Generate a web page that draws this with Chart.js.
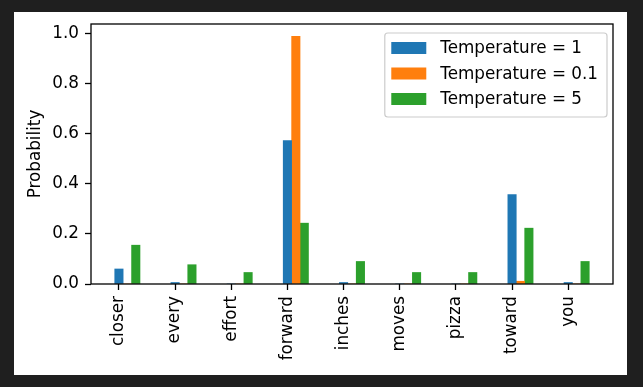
<!DOCTYPE html>
<html>
<head>
<meta charset="utf-8">
<script src="https://cdn.jsdelivr.net/npm/chart.js@4.4.0/dist/chart.umd.min.js"></script>
<style>
    html, body { margin: 0; padding: 0; background: #1f1f1f; }
    body { width: 643px; height: 387px; position: relative; overflow: hidden; }
    #frame { position: absolute; left: 14px; top: 12px; width: 613px; height: 363px; background: #fff; }
    #myChart { display: block; }
</style>
</head>
<body>
<div id="frame"><canvas id="myChart" width="613" height="363"></canvas></div>
<script>
// words on the x axis
const categories = ['closer', 'every', 'effort', 'forward', 'inches', 'moves', 'pizza', 'toward', 'you'];
// probabilities per temperature
const probT1 = [0.060, 0.006, 0.000, 0.573, 0.006, 0.000, 0.000, 0.357, 0.006];
const probT01 = [0.000, 0.000, 0.000, 0.989, 0.000, 0.000, 0.000, 0.011, 0.000];
const probT5 = [0.155, 0.077, 0.046, 0.243, 0.090, 0.046, 0.046, 0.223, 0.090];
const seriesLabels = ['Temperature = 1', 'Temperature = 0.1', 'Temperature = 5'];
const seriesColors = ['#1f77b4', '#ff7f0e', '#2ca02c'];
const yTicks = [0, 0.2, 0.4, 0.6, 0.8, 1.0];

const FONT = 'DejaVu Sans';
const FS = 16.8;
const barWidth = 0.15;   // in category units, like plt.bar(x + k*w, ..., width=w)

const series = [probT1, probT01, probT5];
const datasets = series.map((vals, k) => ({
    label: seriesLabels[k],
    backgroundColor: seriesColors[k],
    borderWidth: 0,
    data: vals.map((v, i) => ({ x: i + k * barWidth, y: v })),
}));

// matplotlib style 5% margins on x
const lo = -barWidth / 2;
const hi = categories.length - 1 + (series.length - 1) * barWidth + barWidth / 2;
const xMargin = 0.05 * (hi - lo);
const yMax = Math.max(...series.flat()) * 1.05;

const boxFrame = {
    id: 'boxFrame',
    afterDatasetsDraw(chart) {
        const a = chart.chartArea, ctx = chart.ctx;
        ctx.save();
        ctx.strokeStyle = '#000';
        ctx.lineWidth = 1.3;
        ctx.strokeRect(a.left, a.top, a.right - a.left, a.bottom - a.top);
        ctx.restore();
    }
};

const mplLegend = {
    id: 'mplLegend',
    afterDraw(chart) {
        const a = chart.chartArea, ctx = chart.ctx;
        ctx.save();
        ctx.font = FS + 'px "' + FONT + '"';
        const labels = chart.data.datasets.map(d => d.label);
        const textW = Math.max(...labels.map(l => ctx.measureText(l).width));
        const pad = 6.5, handleW = 35, handleH = 12, gap = 14;
        const w = pad + handleW + gap + textW + 9;
        const h = 84;
        const right = a.right - 6;
        const left = right - w;
        const top = a.top + 9;
        ctx.beginPath();
        ctx.roundRect(left, top, w, h, 3);
        ctx.fillStyle = 'rgba(255,255,255,0.8)';
        ctx.fill();
        ctx.strokeStyle = '#cccccc';
        ctx.lineWidth = 1.2;
        ctx.stroke();
        ctx.textBaseline = 'middle';
        ctx.textAlign = 'left';
        chart.data.datasets.forEach((d, i) => {
            const cy = top + 15 + i * 25.5;
            ctx.fillStyle = d.backgroundColor;
            ctx.fillRect(left + pad, cy - handleH / 2, handleW, handleH);
            ctx.fillStyle = '#000';
            ctx.fillText(d.label, left + pad + handleW + gap, cy + 1);
        });
        ctx.restore();
    }
};

const canvas = document.getElementById('myChart');
new Chart(canvas, {
    type: 'bar',
    data: { datasets },
    options: {
        responsive: false,
        animation: false,
        devicePixelRatio: 1,
        layout: { padding: { top: 12, right: 14, left: 0, bottom: 0 } },
        datasets: { bar: { grouped: false, barThickness: 8.4 } },
        plugins: {
            legend: { display: false },
            tooltip: { enabled: false },
        },
        scales: {
            x: {
                type: 'linear',
                offset: false,
                min: lo - xMargin,
                max: hi + xMargin,
                afterBuildTicks: s => { s.ticks = categories.map((c, i) => ({ value: i })); },
                afterFit: s => { s.height = 91; s.paddingLeft = 0; s.paddingRight = 0; },
                grid: { offset: false, drawOnChartArea: false, drawTicks: true, tickLength: 6, tickColor: '#000', tickWidth: 1.3 },
                border: { display: false },
                ticks: {
                    autoSkip: false,
                    minRotation: 90,
                    maxRotation: 90,
                    padding: 6,
                    color: '#000',
                    font: { family: FONT, size: FS },
                    callback: v => categories[v],
                },
            },
            y: {
                min: 0,
                max: yMax,
                afterBuildTicks: s => { s.ticks = yTicks.map(v => ({ value: v })); },
                afterFit: s => { s.width = 77; s.paddingTop = 0; s.paddingBottom = 0; },
                grid: { drawOnChartArea: false, drawTicks: true, tickLength: 6, tickColor: '#000', tickWidth: 1.3 },
                border: { display: false },
                ticks: {
                    padding: 6,
                    color: '#000',
                    font: { family: FONT, size: FS },
                    callback: v => v.toFixed(1),
                },
                title: {
                    display: true,
                    text: 'Probability',
                    color: '#000',
                    padding: { top: 12, bottom: 0 },
                    font: { family: FONT, size: FS },
                },
            },
        },
    },
    plugins: [boxFrame, mplLegend],
});
</script>
</body>
</html>
